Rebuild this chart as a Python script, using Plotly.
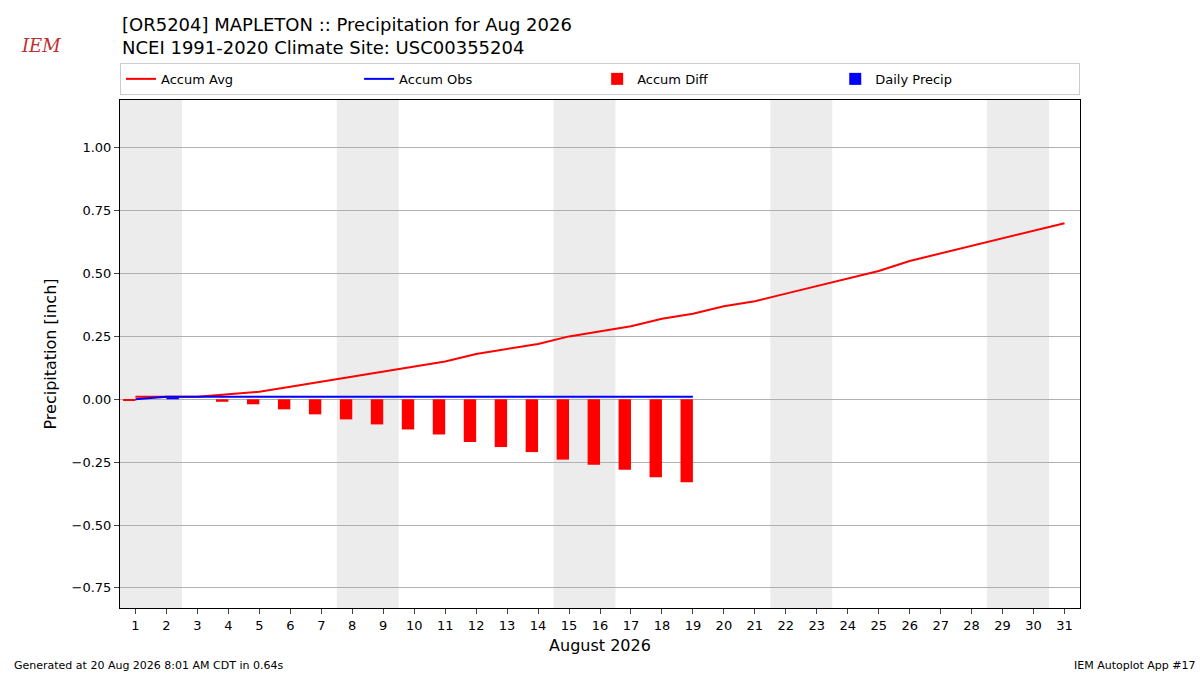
import plotly.graph_objects as go

days = list(range(1, 32))
accum_avg = [0.01,0.01,0.01,0.02,0.03,0.05,0.07,0.09,0.11,0.13,0.15,0.18,0.20,0.22,0.25,0.27,0.29,0.32,0.34,0.37,0.39,0.42,0.45,0.48,0.51,0.55,0.58,0.61,0.64,0.67,0.70]
obs_days = list(range(1, 20))
accum_obs = [0.0] + [0.01]*18
accum_diff = [-0.005,0.0,0.0,-0.01,-0.02,-0.04,-0.06,-0.08,-0.10,-0.12,-0.14,-0.17,-0.19,-0.21,-0.24,-0.26,-0.28,-0.31,-0.33]
daily_precip = [0.0,0.01] + [0.0]*17
weekends = [1, 8, 15, 22, 29]

fig = go.Figure()
fig.add_trace(go.Scatter(x=days, y=accum_avg, mode="lines", line=dict(color="red", width=2), name="Accum Avg"))
fig.add_trace(go.Scatter(x=obs_days, y=accum_obs, mode="lines", line=dict(color="blue", width=2), name="Accum Obs"))
fig.add_trace(go.Bar(x=[d - 0.2 for d in obs_days], y=accum_diff, width=0.4, marker=dict(color="red", line=dict(width=0)), name="Accum Diff"))
fig.add_trace(go.Bar(x=[d + 0.2 for d in obs_days], y=daily_precip, width=0.4, marker=dict(color="blue", line=dict(width=0)), name="Daily Precip"))

for w in weekends:
    fig.add_vrect(x0=w - 0.5, x1=w + 1.5, fillcolor="#ececec", line_width=0, layer="below")

fig.update_layout(
    width=1200, height=675, plot_bgcolor="white", paper_bgcolor="white",
    font=dict(family="DejaVu Sans", size=13, color="black"),
    margin=dict(l=120, r=120, t=100, b=67, autoexpand=False),
    barmode="overlay", showlegend=True,
    legend=dict(orientation="h", x=0.0, y=1.01, xanchor="left", yanchor="bottom",
                entrywidth=0.248, entrywidthmode="fraction", bordercolor="#cccccc", borderwidth=1,
                font=dict(size=13)),
    xaxis=dict(range=[0.5, 31.5], tickmode="array", tickvals=days, ticktext=[str(d) for d in days],
               showgrid=False, showline=True, linecolor="black", mirror=True, ticks="outside",
               title=dict(text="August 2026", font=dict(size=16), standoff=8), zeroline=False, automargin=False),
    yaxis=dict(range=[-0.83, 1.19], showgrid=True, gridcolor="#b0b0b0",
               showline=True, linecolor="black", mirror=True, ticks="outside",
               title=dict(text="Precipitation [inch]", font=dict(size=16), standoff=10), zeroline=False, automargin=False,
               tickvals=[-0.75,-0.5,-0.25,0,0.25,0.5,0.75,1.0],
               ticktext=["\u22120.75","\u22120.50","\u22120.25","0.00","0.25","0.50","0.75","1.00"]),
)

fig.add_annotation(text="[OR5204] MAPLETON :: Precipitation for Aug 2026<br>NCEI 1991-2020 Climate Site: USC00355204",
                   xref="paper", yref="paper", x=-0.0, y=1.0, yshift=40, xanchor="left", yanchor="bottom",
                   align="left", showarrow=False, font=dict(size=18))
fig.add_annotation(text="<i>IEM</i>", xref="paper", yref="paper", x=-0.105, y=1.0, yshift=42, xanchor="left",
                   yanchor="bottom", showarrow=False, font=dict(size=18, color="#c03030", family="DejaVu Serif"))
fig.add_annotation(text="Generated at 20 Aug 2026 8:01 AM CDT in 0.64s", xref="paper", yref="paper",
                   x=-0.112, y=0, yshift=-57, xanchor="left", yanchor="middle", showarrow=False, font=dict(size=11))
fig.add_annotation(text="IEM Autoplot App #17", xref="paper", yref="paper",
                   x=1.123, y=0, yshift=-57, xanchor="right", yanchor="middle", showarrow=False, font=dict(size=11))

fig.write_html("out.html", config={"displayModeBar": False},
               post_script="document.body.style.margin='0';document.body.style.overflow='hidden';")
